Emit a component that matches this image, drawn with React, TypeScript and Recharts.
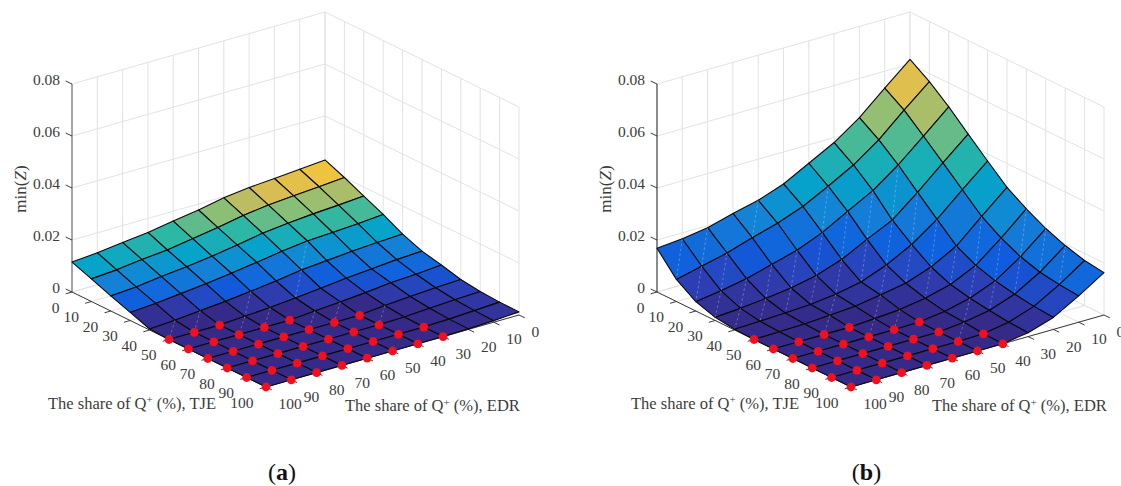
import React from "react";
import { ScatterChart, Scatter, XAxis, YAxis } from "recharts";

const shares = [0, 10, 20, 30, 40, 50, 60, 70, 80, 90, 100];
const zTicks = [0, 0.02, 0.04, 0.06, 0.08];
const zTickLabels = ["0", "0.02", "0.04", "0.06", "0.08"];

// rows: TJE share 0..100, columns: EDR share 0..100
const minZa = [
  [0.0231, 0.0223, 0.0215, 0.0208, 0.0196, 0.0177, 0.0162, 0.0146, 0.0135, 0.0123, 0.0115],
  [0.02, 0.0192, 0.0185, 0.0177, 0.0165, 0.0146, 0.0131, 0.0115, 0.0106, 0.0094, 0.0087],
  [0.0165, 0.0158, 0.0152, 0.0144, 0.0133, 0.0115, 0.01, 0.0087, 0.0077, 0.0065, 0.0058],
  [0.0131, 0.0123, 0.0117, 0.0112, 0.01, 0.0085, 0.0071, 0.0058, 0.0048, 0.0038, 0.0031],
  [0.0092, 0.0087, 0.0081, 0.0073, 0.0065, 0.005, 0.0038, 0.0027, 0.0019, 0.001, 0.0004],
  [0.0063, 0.0058, 0.005, 0.0042, 0.0031, 0.0021, 0.0012, 0.0006, 0, 0, 0],
  [0.0046, 0.0038, 0.0033, 0.0023, 0.0015, 0.0008, 0, 0, 0, 0, 0],
  [0.0027, 0.0023, 0.0017, 0.001, 0, 0, 0, 0, 0, 0, 0],
  [0.0017, 0.0013, 0.0008, 0.0002, 0, 0, 0, 0, 0, 0, 0],
  [0.0013, 0.0008, 0.0003, 0, 0, 0, 0, 0, 0, 0, 0],
  [0.0012, 0.0006, 0.0002, 0, 0, 0, 0, 0, 0, 0, 0],
];
const minZb = [
  [0.0618, 0.0535, 0.0449, 0.0381, 0.0329, 0.0277, 0.0242, 0.0219, 0.0192, 0.0177, 0.0168],
  [0.0569, 0.0487, 0.04, 0.0331, 0.0277, 0.0227, 0.019, 0.0162, 0.0131, 0.0108, 0.0085],
  [0.0508, 0.0423, 0.034, 0.0269, 0.0217, 0.0163, 0.0123, 0.0096, 0.0069, 0.005, 0.0036],
  [0.044, 0.0357, 0.0271, 0.0192, 0.0146, 0.0096, 0.0062, 0.0042, 0.0029, 0.0019, 0.0012],
  [0.0373, 0.029, 0.0204, 0.0135, 0.0084, 0.0046, 0.0027, 0.0015, 0.001, 0.0006, 0.0003],
  [0.0308, 0.0224, 0.0138, 0.0085, 0.005, 0.0033, 0.0017, 0.001, 0.0004, 0.0002, 0],
  [0.0262, 0.0177, 0.01, 0.0054, 0.0029, 0.0013, 0.0006, 0, 0, 0, 0],
  [0.0223, 0.0142, 0.0077, 0.0038, 0.0015, 0.0002, 0, 0, 0, 0, 0],
  [0.0194, 0.0119, 0.0062, 0.0027, 0.001, 0, 0, 0, 0, 0, 0],
  [0.0173, 0.0108, 0.0052, 0.0019, 0.0002, 0, 0, 0, 0, 0, 0],
  [0.0163, 0.0101, 0.0046, 0.0015, 0, 0, 0, 0, 0, 0, 0],
];
// [EDR share, lowest TJE share that carries a red marker]
const redStartA = [[100, 50], [90, 50], [80, 50], [70, 60], [60, 60], [50, 70], [40, 70], [30, 90]];
const redStartB = [[100, 50], [90, 60], [80, 60], [70, 60], [60, 70], [50, 70], [40, 90]];

const parula = ["#352a87", "#2d3fb5", "#0f5cdd", "#1481d6", "#06a4ca", "#2eb7a4", "#87bf77", "#d1bb59", "#fec832", "#f9fb0e"];
const parulaPos = [0, 0.06, 0.12, 0.25, 0.375, 0.5, 0.625, 0.75, 0.875, 1];

const SERIF = "'Liberation Serif', serif";
const TEXT = "#3c3c3c";

const hex = (s: string) => [1, 3, 5].map((i) => parseInt(s.slice(i, i + 2), 16));
function colorAt(f: number) {
  const v = Math.max(0, Math.min(1, f));
  let i = 0;
  while (i < parulaPos.length - 2 && v > parulaPos[i + 1]) i++;
  const k = (v - parulaPos[i]) / (parulaPos[i + 1] - parulaPos[i]);
  const a = hex(parula[i]);
  const b = hex(parula[i + 1]);
  return `rgb(${a.map((c, j) => Math.round(c + (b[j] - c) * k)).join(",")})`;
}

// oblique projection of (TJE share, EDR share, Z) on the chart's value plane
const project = (dx: number, t: number, e: number, z: number) => ({
  x: dx + 325 + 1.94 * t - 2.53 * e,
  y: 220 + 0.95 * t + 0.72 * e - 2600 * z,
});

type P = { x: number; y: number };

function buildPanel(grid: number[][], dx: number, redStart: number[][], axisColor: string) {
  const p = (t: number, e: number, z: number) => project(dx, t, e, z);
  const gridSegs: any[] = [];
  const axisSegs: any[] = [];
  const seg = (list: any[], a: P, b: P, stroke: string, width: number) =>
    list.push({ x: a.x, y: a.y, x2: b.x, y2: b.y, stroke, width });
  const G = "#e2e2e2";
  const top = zTicks[zTicks.length - 1];
  shares.forEach((s) => {
    seg(gridSegs, p(0, s, 0), p(0, s, top), G, 1);
    seg(gridSegs, p(s, 0, 0), p(s, 0, top), G, 1);
    seg(gridSegs, p(s, 0, 0), p(s, 100, 0), G, 1);
    seg(gridSegs, p(0, s, 0), p(100, s, 0), G, 1);
  });
  zTicks.forEach((z) => {
    seg(gridSegs, p(0, 100, z), p(0, 0, z), G, 1);
    seg(gridSegs, p(0, 0, z), p(100, 0, z), G, 1);
  });
  seg(axisSegs, p(0, 100, 0), p(0, 100, top), axisColor, 1);
  seg(axisSegs, p(0, 100, 0), p(100, 100, 0), "#262626", 0.9);
  seg(axisSegs, p(100, 0, 0), p(100, 100, 0), "#262626", 0.9);
  const labels: any[] = [];
  zTicks.forEach((z, i) => {
    const a = p(0, 100, z);
    seg(axisSegs, a, { x: a.x - 6.3, y: a.y - 3 }, "#262626", 0.9);
    labels.push({ x: a.x - 12, y: a.y - 4, text: zTickLabels[i], anchor: "end" });
  });
  shares.forEach((s) => {
    const a = p(s, 100, 0);
    seg(axisSegs, a, { x: a.x - 6.3, y: a.y + 1.8 }, "#262626", 0.9);
    labels.push({ x: a.x - 12.5, y: a.y + 15.5, text: String(s), anchor: "end" });
    const b = p(100, s, 0);
    seg(axisSegs, b, { x: b.x + 5.8, y: b.y + 2.8 }, "#262626", 0.9);
    labels.push({ x: b.x + 12.5, y: b.y + 17, text: String(s), anchor: "start" });
  });

  const zMax = Math.max(...grid.flat());
  const faces: any[] = [];
  for (let i = 0; i < shares.length - 1; i++) {
    for (let j = 0; j < shares.length - 1; j++) {
      const z00 = grid[i][j];
      const z01 = grid[i][j + 1];
      const z10 = grid[i + 1][j];
      const z11 = grid[i + 1][j + 1];
      const corners = [
        p(shares[i], shares[j], z00),
        p(shares[i], shares[j + 1], z01),
        p(shares[i + 1], shares[j + 1], z11),
        p(shares[i + 1], shares[j], z10),
      ];
      const kink = Math.abs(z00 + z11 - z01 - z10);
      faces.push({
        x: corners[0].x,
        y: corners[0].y,
        corners,
        fill: colorAt(z11 / zMax),
        seam: kink > 0.0004 && z11 / zMax < 0.45,
      });
    }
  }
  const dots: any[] = [];
  redStart.forEach(([e, first]) => {
    shares.filter((t) => t >= first).forEach((t) => {
      dots.push(p(t, e, grid[shares.indexOf(t)][shares.indexOf(e)]));
    });
  });
  return { gridSegs, axisSegs, faces, dots, labels };
}

const panelA = buildPanel(minZa, 0, redStartA, "#5a5a5a");
const panelB = buildPanel(minZb, 585, redStartB, "#262626");
const gridData = [...panelA.gridSegs, ...panelB.gridSegs];
const axisData = [...panelA.axisSegs, ...panelB.axisSegs];
const faceData = [...panelA.faces, ...panelB.faces];
const dotData = [...panelA.dots, ...panelB.dots];
const tickData = [...panelA.labels, ...panelB.labels];
const titleData = [
  { x: 48, y: 403, text: "TJE" },
  { x: 345, y: 405.5, text: "EDR" },
  { x: 631, y: 403, text: "TJE" },
  { x: 932, y: 405.5, text: "EDR" },
];
const zTitleData = [{ x: 20, y: 189 }, { x: 605, y: 189 }];
const captionData = [{ x: 282, y: 472, text: "a" }, { x: 866.5, y: 472, text: "b" }];

const Segment = (props: any) => {
  const { cx, cy, payload: d } = props;
  return <line x1={cx} y1={cy} x2={cx + d.x2 - d.x} y2={cy + d.y2 - d.y} stroke={d.stroke} strokeWidth={d.width} />;
};
const Face = (props: any) => {
  const { cx, cy, payload: d } = props;
  const pts = d.corners.map((c: P) => ({ x: cx + c.x - d.x, y: cy + c.y - d.y }));
  return (
    <g>
      <polygon
        points={pts.map((c: P) => `${c.x},${c.y}`).join(" ")}
        fill={d.fill}
        stroke="#0a0a0a"
        strokeWidth={1.1}
        strokeLinejoin="round"
      />
      {d.seam ? (
        <line x1={pts[0].x} y1={pts[0].y} x2={pts[2].x} y2={pts[2].y} stroke="#fff" strokeOpacity={0.35} strokeWidth={0.8} strokeDasharray="2.5 2.5" />
      ) : null}
    </g>
  );
};
const Dot = (props: any) => <circle cx={props.cx} cy={props.cy} r={4.4} fill="#f2101e" />;
const TickText = (props: any) => (
  <text x={props.cx} y={props.cy} dy="0.34em" textAnchor={props.payload.anchor} fontFamily={SERIF} fontSize={15.5} fill={TEXT}>
    {props.payload.text}
  </text>
);
const TitleText = (props: any) => (
  <text x={props.cx} y={props.cy} dy="0.34em" fontFamily={SERIF} fontSize={16.5} fill={TEXT}>
    The share of Q
    <tspan dy={-5.5} fontSize={11}>+</tspan>
    <tspan dy={5.5}>{` (%), ${props.payload.text}`}</tspan>
  </text>
);
const ZTitle = (props: any) => (
  <text
    x={props.cx}
    y={props.cy}
    dy="0.34em"
    textAnchor="middle"
    transform={`rotate(-90 ${props.cx} ${props.cy})`}
    fontFamily={SERIF}
    fontSize={17}
    fill={TEXT}
  >
    min(<tspan fontStyle="italic">Z</tspan>)
  </text>
);
const Caption = (props: any) => (
  <text x={props.cx} y={props.cy} dy="0.34em" textAnchor="middle" fontFamily={SERIF} fontSize={24} fill="#111">
    (<tspan fontWeight="bold">{props.payload.text}</tspan>)
  </text>
);

export default function App() {
  return (
    <div style={{ position: "absolute", left: 0, top: 0, width: 1121, height: 486 }}>
      <ScatterChart width={1121} height={486} margin={{ top: 0, right: 0, bottom: 0, left: 0 }}>
        <XAxis type="number" dataKey="x" domain={[0, 1121]} hide />
        <YAxis type="number" dataKey="y" domain={[0, 486]} reversed hide />
        <Scatter data={gridData} shape={Segment} isAnimationActive={false} />
        <Scatter data={axisData} shape={Segment} isAnimationActive={false} />
        <Scatter data={faceData} shape={Face} isAnimationActive={false} />
        <Scatter data={dotData} shape={Dot} isAnimationActive={false} />
        <Scatter data={tickData} shape={TickText} isAnimationActive={false} />
        <Scatter data={titleData} shape={TitleText} isAnimationActive={false} />
        <Scatter data={zTitleData} shape={ZTitle} isAnimationActive={false} />
        <Scatter data={captionData} shape={Caption} isAnimationActive={false} />
      </ScatterChart>
    </div>
  );
}
